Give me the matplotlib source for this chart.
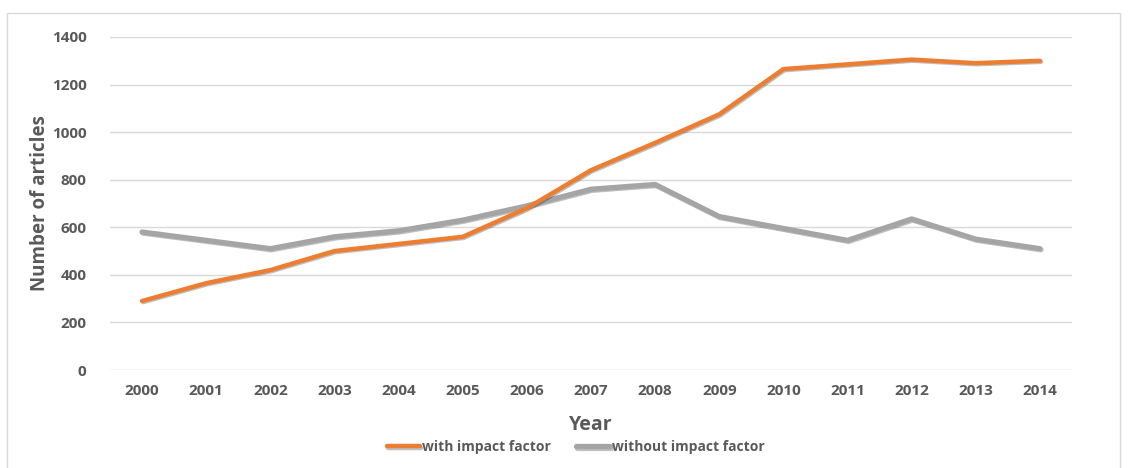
import matplotlib.pyplot as plt
import matplotlib.patheffects as pe
from matplotlib.patches import Rectangle

# Articles per year, split by journal impact factor status
years = ["2000", "2001", "2002", "2003", "2004", "2005", "2006", "2007",
         "2008", "2009", "2010", "2011", "2012", "2013", "2014"]
with_if = [290, 365, 420, 500, 530, 560, 680, 840, 955, 1075, 1265, 1285, 1305, 1290, 1300]
without_if = [580, 545, 510, 560, 585, 630, 690, 760, 780, 645, 595, 545, 635, 550, 510]

text_col = "#595959"
plt.rcParams["font.family"] = ["Open Sans", "DejaVu Sans"]

fig = plt.figure(figsize=(11.29, 4.68), dpi=100)
ax = fig.add_axes([110 / 1129, 1 - 370 / 468, 962 / 1129, 333 / 468])

# faint chart border
fig.patches.append(Rectangle((7 / 1129, -0.05), 1113 / 1129, 1 - 13 / 468 + 0.05,
                             transform=fig.transFigure, fill=False,
                             edgecolor="#D9D9D9", linewidth=1))

x = list(range(len(years)))
shadow = [pe.SimpleLineShadow(offset=(0.8, -0.8), alpha=0.25), pe.Normal()]
ax.plot(x, with_if, color="#ED7D31", linewidth=3.2, solid_capstyle="round",
        label="with impact factor", path_effects=shadow, zorder=3)
ax.plot(x, without_if, color="#A5A5A5", linewidth=3.8, solid_capstyle="round",
        label="without impact factor", path_effects=shadow, zorder=2)

ax.set_xlim(-0.5, len(years) - 0.5)
ax.set_ylim(0, 1400)
ax.set_yticks(range(0, 1401, 200))
ax.set_xticks(x)
ax.set_xticklabels(years)
ax.grid(axis="y", color="#D9D9D9", linewidth=1)
ax.set_axisbelow(True)
for s in ax.spines.values():
    s.set_visible(False)
ax.tick_params(length=0, labelsize=11, labelcolor=text_col, pad=17)
ax.tick_params(axis="x", pad=10)
for lbl in ax.get_xticklabels() + ax.get_yticklabels():
    lbl.set_fontweight("bold")

ax.set_ylabel("Number of articles", fontsize=13.5, fontweight="bold",
              color=text_col)
ax.yaxis.set_label_coords(-0.062, 0.5)
ax.set_xlabel("Year", fontsize=14, fontweight="bold", color=text_col, labelpad=12)

leg = ax.legend(loc="center", bbox_to_anchor=(0.484, -0.232), ncol=2,
                frameon=False, handlelength=2.4, handletextpad=0.15,
                columnspacing=1.8, prop={"size": 10, "weight": "bold"})
for t in leg.get_texts():
    t.set_color(text_col)

fig.savefig("out.png", dpi=100)
